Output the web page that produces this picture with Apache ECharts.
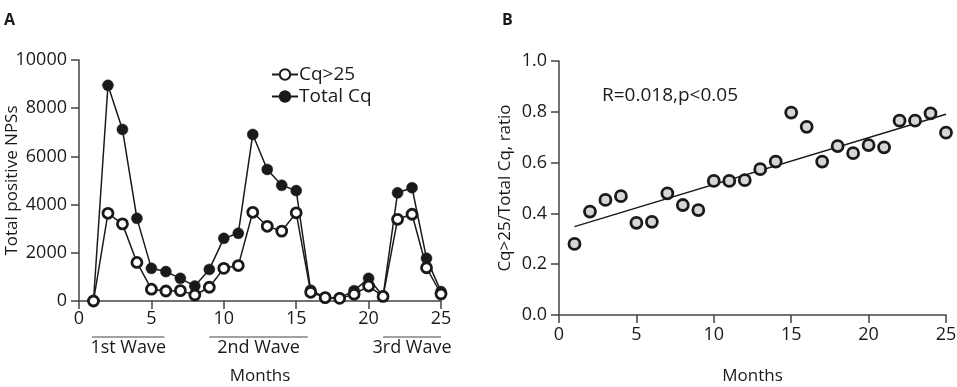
<!DOCTYPE html>
<html>
<head>
<meta charset="utf-8">
<script src="https://cdn.jsdelivr.net/npm/echarts@6/dist/echarts.min.js"></script>
<style>
  html, body { margin: 0; padding: 0; background: #fff; }
  #main { width: 957px; height: 387px; }
</style>
</head>
<body>
<div id="main"></div>
<script>
// data
var months = [1,2,3,4,5,6,7,8,9,10,11,12,13,14,15,16,17,18,19,20,21,22,23,24,25];
var cqOver25 = [0,3640,3200,1600,490,415,430,250,570,1355,1470,3680,3100,2900,3660,360,140,110,280,620,190,3390,3600,1380,290];
var totalCq = [0,8950,7120,3430,1355,1220,940,620,1310,2600,2810,6910,5460,4800,4580,450,150,130,430,940,200,4490,4700,1770,390];
var ratio = [0.280,0.407,0.453,0.468,0.363,0.367,0.479,0.433,0.413,0.528,0.528,0.531,0.574,0.604,0.797,0.741,0.604,0.665,0.637,0.669,0.660,0.765,0.765,0.794,0.718];
var fitX = [1, 25];
var fitY = [0.348, 0.790];
var waves = [
    ['1st Wave', 0.9, 5.9],
    ['2nd Wave', 9.0, 15.8],
    ['3rd Wave', 21.0, 25.0]
];

var font = '"Open Sans", "Noto Sans", sans-serif';
var ink = '#1a1a1a';

function pairs(xs, ys) {
    var out = [];
    for (var i = 0; i < xs.length; i++) {
        out.push([xs[i], ys[i]]);
    }
    return out;
}

var chart = echarts.init(document.getElementById('main'));

var axisCommon = {
    axisLine: { show: true, onZero: false, lineStyle: { color: '#444', width: 1.5 } },
    axisTick: { show: true, length: 8, lineStyle: { color: '#444', width: 1.5 } },
    splitLine: { show: false },
    nameMoveOverlap: false,
    axisLabel: { color: ink, fontSize: 18, fontFamily: font },
    nameTextStyle: { color: ink, fontSize: 17, fontFamily: font }
};

option = {
    animation: false,
    textStyle: { fontFamily: font },
    grid: [
        { left: 79, top: 60, width: 362, height: 241, outerBoundsMode: 'none', containLabel: false },
        { left: 559, top: 61, width: 387, height: 254, outerBoundsMode: 'none', containLabel: false }
    ],
    legend: {
        data: ['Cq>25', 'Total Cq'],
        orient: 'vertical',
        left: 266,
        top: 60,
        itemWidth: 26,
        itemHeight: 13,
        itemGap: 3,
        textStyle: { color: ink, fontSize: 19, fontFamily: font, padding: [0, 0, 0, -4] }
    },
    xAxis: [
        Object.assign({}, axisCommon, {
            gridIndex: 0, type: 'value', min: 0, max: 25, interval: 5,
            name: 'Months', nameLocation: 'middle', nameGap: 67,
            axisLabel: Object.assign({}, axisCommon.axisLabel, { margin: 9 })
        }),
        Object.assign({}, axisCommon, {
            gridIndex: 1, type: 'value', min: 0, max: 25, interval: 5,
            name: 'Months', nameLocation: 'middle', nameGap: 53,
            axisLabel: Object.assign({}, axisCommon.axisLabel, { margin: 11 })
        })
    ],
    yAxis: [
        Object.assign({}, axisCommon, {
            gridIndex: 0, type: 'value', min: 0, max: 10000, interval: 2000,
            name: 'Total positive NPSs', nameLocation: 'middle', nameGap: 58,
            axisLabel: Object.assign({}, axisCommon.axisLabel, {
                margin: 12,
                formatter: function (v) { return String(v); }
            })
        }),
        Object.assign({}, axisCommon, {
            gridIndex: 1, type: 'value', min: 0, max: 1, interval: 0.2,
            name: 'Cq>25/Total Cq, ratio', nameLocation: 'middle', nameGap: 45,
            axisLabel: Object.assign({}, axisCommon.axisLabel, {
                margin: 12,
                formatter: function (v) { return v.toFixed(1); }
            })
        })
    ],
    series: [
        {
            name: 'Total Cq',
            type: 'line',
            xAxisIndex: 0, yAxisIndex: 0,
            data: pairs(months, totalCq),
            symbol: 'circle',
            symbolSize: 11,
            showAllSymbol: true,
            lineStyle: { color: ink, width: 1.5 },
            itemStyle: { color: ink, borderColor: ink, borderWidth: 0.5 },
            z: 2
        },
        {
            name: 'Cq>25',
            type: 'line',
            xAxisIndex: 0, yAxisIndex: 0,
            data: pairs(months, cqOver25),
            symbol: 'circle',
            symbolSize: 10,
            showAllSymbol: true,
            lineStyle: { color: ink, width: 1.5 },
            itemStyle: { color: '#fff', borderColor: ink, borderWidth: 2.8 },
            z: 3
        },
        {
            name: 'fit',
            type: 'line',
            xAxisIndex: 1, yAxisIndex: 1,
            data: pairs(fitX, fitY),
            symbol: 'none',
            lineStyle: { color: ink, width: 1.5 },
            z: 2
        },
        {
            name: 'ratio',
            type: 'scatter',
            xAxisIndex: 1, yAxisIndex: 1,
            data: pairs(months, ratio),
            symbol: 'circle',
            symbolSize: 11,
            itemStyle: { color: '#d6d6d6', borderColor: ink, borderWidth: 2.8, opacity: 1 },
            z: 3
        }
    ]
};

chart.setOption(option);

// panel letters, stats text and wave brackets under panel A
var graphics = [
    { type: 'text', left: 4, top: 12, style: { text: 'A', fill: ink, font: 'bold 16px ' + font } },
    { type: 'text', left: 502, top: 12, style: { text: 'B', fill: ink, font: 'bold 16px ' + font } },
    { type: 'text', left: 602, top: 86, style: { text: 'R=0.018,p<0.05', fill: ink, font: '19px ' + font } }
];
var axisY = chart.convertToPixel({ yAxisIndex: 0 }, 0);
waves.forEach(function (w) {
    var x1 = chart.convertToPixel({ xAxisIndex: 0 }, w[1]);
    var x2 = chart.convertToPixel({ xAxisIndex: 0 }, w[2]);
    graphics.push({
        type: 'line',
        shape: { x1: x1, y1: axisY + 36, x2: x2, y2: axisY + 36 },
        style: { stroke: '#444', lineWidth: 1.2 }
    });
    graphics.push({
        type: 'text',
        x: (x1 + x2) / 2,
        y: axisY + 47,
        style: { text: w[0], fill: ink, font: '18px ' + font, align: 'center', verticalAlign: 'middle' }
    });
});
chart.setOption({ graphic: graphics });
</script>
</body>
</html>
